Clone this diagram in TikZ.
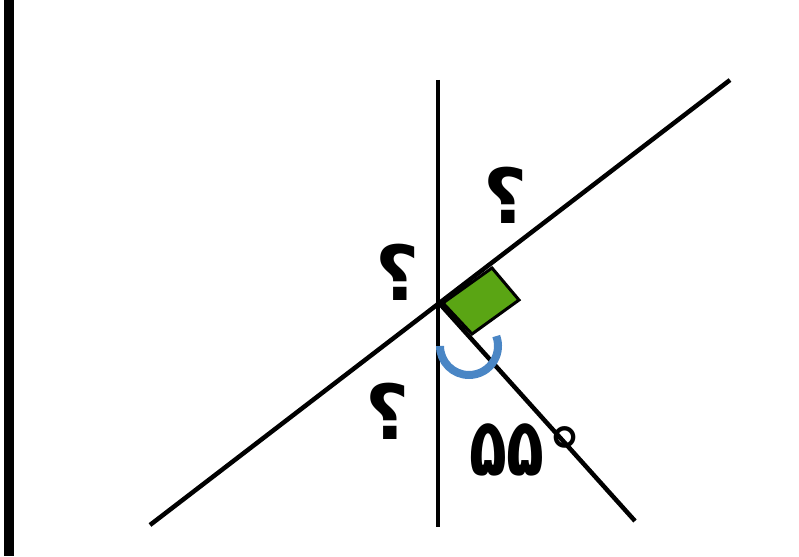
\documentclass[tikz,border=0pt]{standalone}
\usepackage{graphicx}
\usepackage{fontspec}
\newfontfamily\arabicfont[Script=Arabic]{DejaVu Sans}
\TeXXeTstate=1
\definecolor{sqgreen}{RGB}{90,165,20}
\definecolor{arcblue}{RGB}{74,134,197}
\begin{document}
\begin{tikzpicture}[x=1pt,y=-1pt,
  geo/.style={line width=4.5pt,black},
  qmark/.style={font=\arabicfont\bfseries\fontsize{76}{76}\selectfont,inner sep=0pt},
  numlab/.style={font=\arabicfont\bfseries\fontsize{62}{62}\selectfont,inner sep=0pt}]
\useasboundingbox (0,0) rectangle (799,556);
\fill[white] (0,0) rectangle (799,556);
% left border
\draw[line width=10pt] (9,0) -- (9,556);
% points
\coordinate (O) at (440,304);
\coordinate (vt) at (438,80);
\coordinate (vb) at (438,527);
\coordinate (dl) at (150,525);
\coordinate (dr) at (730,80);
\coordinate (re) at (635,521);
% square
\coordinate (s1) at (443,303);
\coordinate (s2) at (492,268);
\coordinate (s3) at (519,300);
\coordinate (s4) at (472,334);
\filldraw[fill=sqgreen,draw=black,line width=3pt,line join=miter] (s1) -- (s2) -- (s3) -- (s4) -- cycle;
% lines
\draw[geo] (vt) -- (vb);
\draw[geo] (dl) -- (dr);
\draw[geo] (O) -- (re);
% blue arc
\draw[arcblue,line width=8pt] (440,346) arc[start angle=180,end angle=-20,radius=29];
% labels
\node[qmark] (q1) at (506,195) {\beginR ؟\endR};
\node[qmark] (q2) at (398,272) {\beginR ؟\endR};
\node[qmark] (q3) at (388,411) {\beginR ؟\endR};
\node[numlab] (n55) at (507,450) {\scalebox{1}[1.3]{\beginR ۵۵\endR}};
\node[inner sep=0pt,font=\fontsize{70}{70}\selectfont\arabicfont] (deg) at (565,453) {°};
\end{tikzpicture}
\end{document}
